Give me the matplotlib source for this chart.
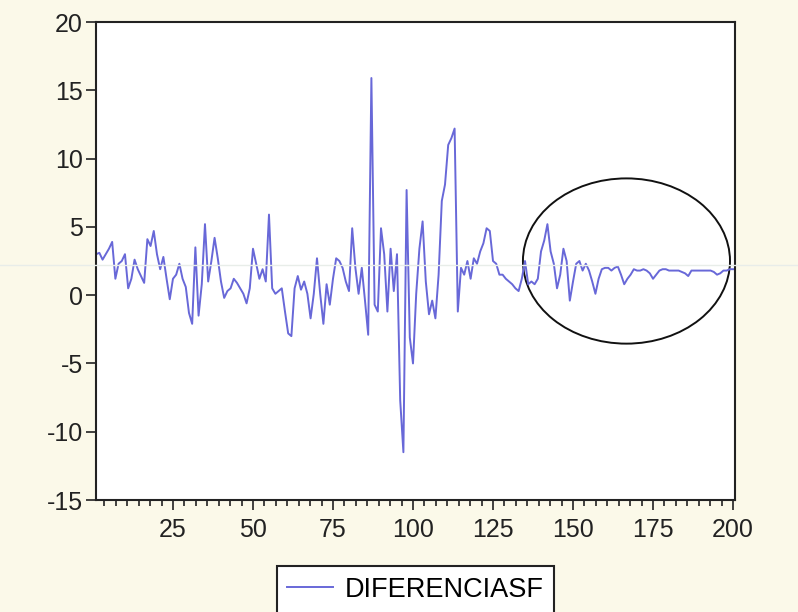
import matplotlib.pyplot as plt
from matplotlib.patches import Ellipse
from matplotlib.lines import Line2D
from matplotlib.ticker import MultipleLocator

obs = list(range(1, 201))
diferenciasf = [
    3.0, 3.1, 2.6, 3.0, 3.4, 3.9, 1.2, 2.3, 2.5, 3.0,
    0.5, 1.2, 2.6, 1.9, 1.4, 0.9, 4.1, 3.6, 4.7, 3.0,
    1.9, 2.8, 1.2, -0.3, 1.2, 1.5, 2.3, 1.2, 0.6, -1.3,
    -2.1, 3.5, -1.5, 0.8, 5.2, 1.0, 2.5, 4.2, 2.7, 1.0,
    -0.2, 0.3, 0.5, 1.2, 0.9, 0.5, 0.1, -0.6, 0.5, 3.4,
    2.3, 1.2, 1.9, 1.0, 5.9, 0.5, 0.1, 0.3, 0.5, -1.2,
    -2.8, -3.0, 0.5, 1.4, 0.4, 1.0, 0.1, -1.7, 0.1, 2.7,
    0.1, -2.1, 0.8, -0.7, 1.2, 2.7, 2.5, 2.0, 1.0, 0.3,
    4.9, 2.0, 0.1, 2.0, -0.4, -2.9, 15.9, -0.7, -1.2, 4.9,
    3.0, -1.2, 3.4, 0.3, 3.0, -7.7, -11.5, 7.7, -3.1, -5.0,
    0.1, 3.4, 5.4, 1.0, -1.4, -0.4, -1.7, 1.5, 6.9, 8.1,
    11.0, 11.5, 12.2, -1.2, 2.0, 1.5, 2.5, 1.2, 2.7, 2.3,
    3.2, 3.8, 4.9, 4.7, 2.5, 2.3, 1.5, 1.5, 1.2, 1.0,
    0.8, 0.5, 0.3, 1.2, 2.5, 0.8, 1.0, 0.8, 1.2, 3.2,
    4.0, 5.2, 3.2, 2.3, 0.5, 1.5, 3.4, 2.5, -0.4, 1.0,
    2.3, 2.5, 1.8, 2.3, 1.8, 1.0, 0.1, 1.2, 1.9, 2.0,
    2.0, 1.8, 2.0, 2.1, 1.5, 0.8, 1.2, 1.5, 1.9, 1.8,
    1.8, 1.9, 1.8, 1.6, 1.2, 1.5, 1.8, 1.9, 1.9, 1.8,
    1.8, 1.8, 1.8, 1.7, 1.6, 1.4, 1.8, 1.8, 1.8, 1.8,
    1.8, 1.8, 1.8, 1.7, 1.5, 1.6, 1.8, 1.8, 1.9, 1.9,
]
x_ticks = [25, 50, 75, 100, 125, 150, 175, 200]
y_ticks = [-15, -10, -5, 0, 5, 10, 15, 20]

plt.rcParams['font.family'] = ['Liberation Sans', 'DejaVu Sans']

fig = plt.figure(figsize=(7.98, 6.12), dpi=100, facecolor='#fbf9e9')
ax = fig.add_axes([0.1197, 0.183, 0.8013, 0.781])
ax.set_facecolor('white')

line, = ax.plot(obs, diferenciasf, color='#6868d8', lw=1.4, label='DIFERENCIASF')

# hand-drawn circle around the last observations
ax.add_patch(Ellipse((166.7, 2.5), 64.7, 12.1, fill=False, edgecolor='#111111',
                     lw=1.4, clip_on=False))

ax.set_xlim(0.8, 200.6)
ax.set_ylim(-15, 20)
ax.set_xticks(x_ticks)
ax.set_yticks(y_ticks)
ax.set_yticklabels([str(v) for v in y_ticks])
ax.xaxis.set_minor_locator(MultipleLocator(25 / 7))
ax.tick_params(axis='both', which='major', labelsize=18, length=7, width=1.2,
               color='#222222', labelcolor='#222222', direction='out')
ax.tick_params(axis='x', which='minor', length=4, width=1.2, color='#222222')
ax.tick_params(axis='x', pad=6)
ax.tick_params(axis='y', pad=2)
ax.tick_params(top=False, right=False)
for s in ax.spines.values():
    s.set_linewidth(1.5)
    s.set_color('#222222')

# faint scanner streak across the page
fig.add_artist(Line2D([0, 1], [1 - 265 / 612, 1 - 265 / 612], color='#e8ede9',
                      lw=1.0, transform=fig.transFigure))

leg = fig.legend(handles=[line], loc='upper center', bbox_to_anchor=(0.5205, 1 - 566 / 612),
                 fontsize=19.5, frameon=True, fancybox=False, edgecolor='#222222',
                 facecolor='white', handlelength=1.7, handletextpad=0.4,
                 borderpad=0.4, borderaxespad=0, framealpha=1)
leg.get_frame().set_linewidth(1.5)

fig.savefig('out.png', dpi=100, facecolor=fig.get_facecolor())
